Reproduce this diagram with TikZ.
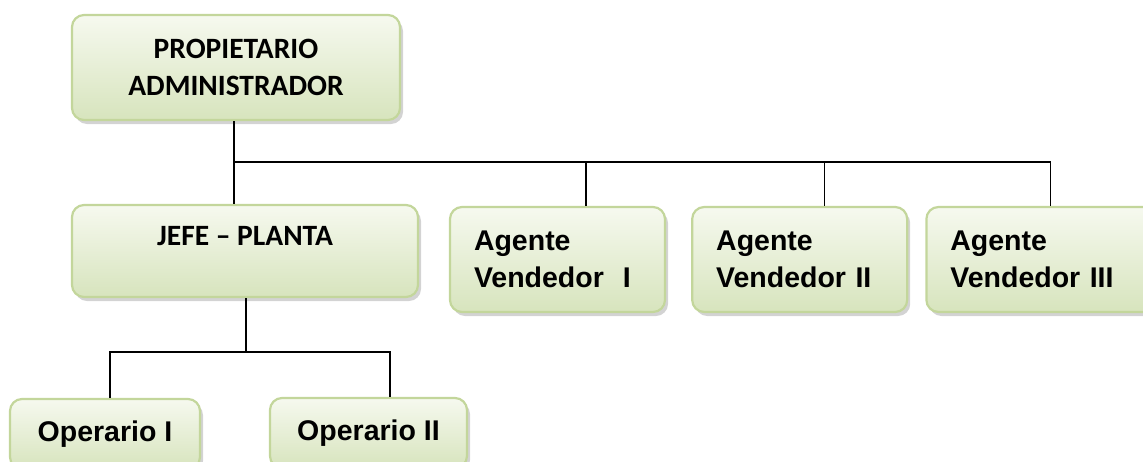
\documentclass[tikz,border=0pt]{standalone}
\usepackage{fontspec}
\newfontfamily\calibri{Carlito}
\newfontfamily\arial{Liberation Sans}
\usetikzlibrary{positioning,shadows}

\definecolor{boxline}{HTML}{C3D69B}
\definecolor{boxtop}{HTML}{F6F9EF}
\definecolor{boxbot}{HTML}{D7E4BD}

\begin{document}
\begin{tikzpicture}[x=1pt, y=1pt, node distance=25pt and 25pt,
    box/.style={draw=boxline, line width=2.2pt, rounded corners=12pt,
      top color=boxtop, bottom color=boxbot, inner sep=0pt,
      drop shadow={shadow xshift=3pt, shadow yshift=-4pt, opacity=0.35}},
    titlefont/.style={font=\calibri\bfseries\fontsize{29.5}{37}\selectfont},
    namefont/.style={font=\arial\bfseries\fontsize{28.5}{37}\selectfont},
    conn/.style={draw=black, line width=1.3pt}]
  \useasboundingbox (0,0) rectangle (1143,-461);

  % top level
  \node[box, titlefont, align=center] (prop) at (236,-67.5)
    [minimum width=328pt, minimum height=105pt] {PROPIETARIO\\ADMINISTRADOR};

  % second level
  \node[box, titlefont] (jefe) at (245,-251)
    [minimum width=346pt, minimum height=92pt, text height=20pt, text depth=32pt] {JEFE \textendash{} PLANTA};
  \node[box, namefont, align=left] (ag1) at (557.5,-259.5)
    [minimum height=105pt, text width=167pt, inner xsep=24pt] {Agente\\Vendedor\ \ I};
  \node[box, namefont, align=left] (ag2) [right=25pt of ag1]
    [minimum height=105pt, text width=167pt, inner xsep=24pt] {Agente\\Vendedor II};
  \node[box, namefont, align=left] (ag3) [right=17pt of ag2]
    [minimum height=105pt, text width=180pt, inner xsep=24pt] {Agente\\Vendedor III};

  % third level
  \node[box, namefont] (op1) at (105,-434) [minimum width=190pt, minimum height=70pt] {Operario I};
  \node[box, namefont] (op2) at (368.5,-433) [minimum width=197pt, minimum height=70pt] {Operario II};

  % connectors
  \coordinate (bus) at (234,-162);
  \draw[conn] (prop.south -| bus) -- (bus) -- (jefe.north -| bus);
  \draw[conn] (bus) -| ([xshift=28.5pt]ag1.north);
  \draw[conn] (bus) -| ([xshift=24.5pt]ag2.north);
  \draw[conn] (bus) -| ([xshift=10pt]ag3.north);

  \draw[conn] ([xshift=1pt]jefe.south) -- ++(0,-54) coordinate (sub);
  \draw[conn] (sub) -| ([xshift=5pt]op1.north);
  \draw[conn] (sub) -| ([xshift=21.5pt]op2.north);
\end{tikzpicture}
\end{document}
